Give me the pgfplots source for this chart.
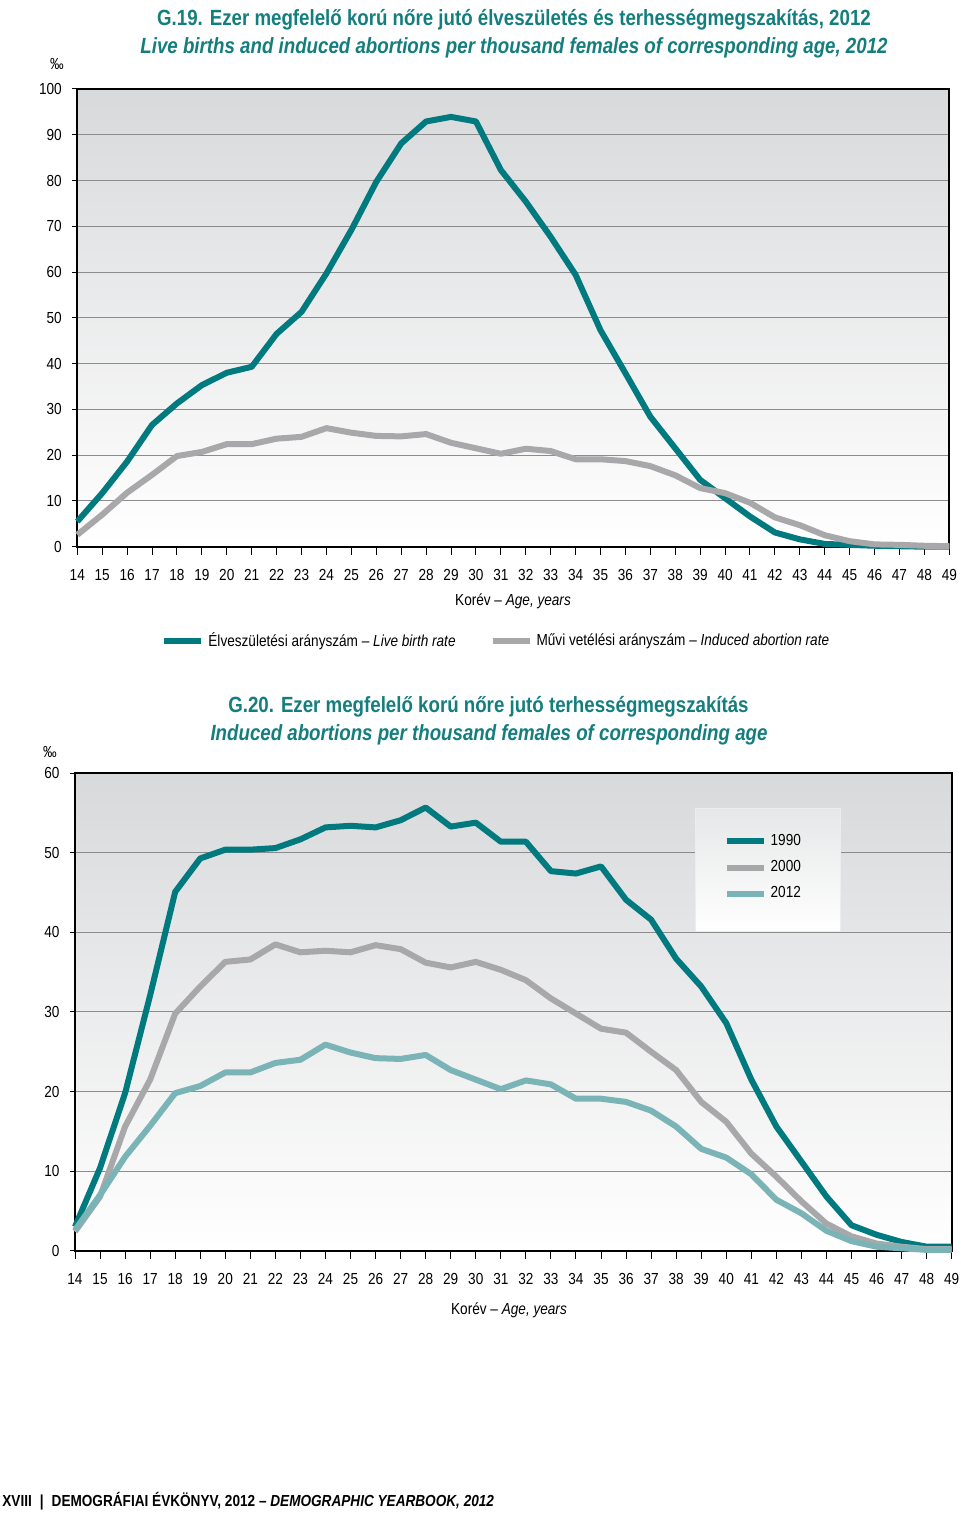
\documentclass[border=0pt]{standalone}
\usepackage{fontspec}
\setmainfont{Liberation Sans}[FakeStretch=0.85]
\usepackage{pgfplots}
\pgfplotsset{compat=1.18}
\usepackage{pgfplotstable}
\definecolor{tealdark}{RGB}{0,122,126}
\definecolor{grayline}{RGB}{168,168,171}
\definecolor{tealight}{RGB}{122,180,182}
\definecolor{titleteal}{RGB}{20,125,125}
\definecolor{bgtop}{RGB}{216,217,219}
\definecolor{gridc}{RGB}{140,140,140}
\definecolor{legtop}{RGB}{230,231,232}

\pgfplotstableread{
age birth abort
14 5.5 2.6
15 11.7 7.0
16 18.6 11.8
17 26.6 15.7
18 31.3 19.8
19 35.3 20.7
20 38.0 22.4
21 39.3 22.4
22 46.5 23.6
23 51.3 24.0
24 59.7 25.9
25 69.2 24.9
26 79.7 24.2
27 88.1 24.1
28 92.9 24.6
29 93.9 22.7
30 92.9 21.5
31 82.3 20.3
32 75.4 21.4
33 67.7 20.9
34 59.4 19.1
35 47.3 19.1
36 37.9 18.7
37 28.4 17.6
38 21.5 15.6
39 14.6 12.8
40 10.6 11.7
41 6.6 9.6
42 3.1 6.4
43 1.6 4.7
44 0.6 2.5
45 0.4 1.2
46 0.2 0.5
47 0.1 0.4
48 0.0 0.2
49 0.0 0.1
}\topdata

\pgfplotstableread{
age y1990 y2000 y2012
14 3.0 2.4 2.6
15 10.4 6.8 7.0
16 19.8 15.6 11.8
17 32.1 21.5 15.7
18 45.1 29.8 19.8
19 49.3 33.2 20.7
20 50.4 36.3 22.4
21 50.4 36.6 22.4
22 50.6 38.5 23.6
23 51.7 37.5 24.0
24 53.2 37.7 25.9
25 53.4 37.5 24.9
26 53.2 38.4 24.2
27 54.1 37.9 24.1
28 55.7 36.2 24.6
29 53.3 35.6 22.7
30 53.8 36.3 21.5
31 51.4 35.3 20.3
32 51.4 34.0 21.4
33 47.7 31.7 20.9
34 47.4 29.8 19.1
35 48.3 27.9 19.1
36 44.1 27.4 18.7
37 41.6 25.0 17.6
38 36.7 22.7 15.6
39 33.2 18.7 12.8
40 28.6 16.2 11.7
41 21.5 12.2 9.6
42 15.6 9.3 6.4
43 11.2 6.2 4.7
44 6.8 3.4 2.5
45 3.2 1.8 1.2
46 2.0 0.9 0.5
47 1.1 0.5 0.3
48 0.5 0.2 0.1
49 0.5 0.2 0.1
}\botdata

\pgfplotsset{
  mystyle/.style={
    scale only axis,
    xmin=14, xmax=49, ymin=0,
    xtick={14,...,49},
    axis background/.style={top color=bgtop, bottom color=white},
    ymajorgrids,
    grid style={gridc, line width=0.5pt},
    axis line style={black, line width=1.1pt},
    tick align=outside,
    xtick pos=lower, ytick pos=left,
    tick style={black, line width=0.5pt},
    xtick style={/pgfplots/major tick length=4pt},
    ytick style={/pgfplots/major tick length=2.5pt},
    tick label style={font=\fontsize{8}{9}\selectfont},
    xticklabel style={yshift=-3.7pt},
    /pgf/number format/assume math mode=true,
    clip=false,
    legend image code/.code={\draw[#1, line width=3pt] (0pt,0pt) -- (18.5pt,0pt);},
  },
  myline/.style={line width=3pt, line join=round},
}

\begin{document}
\begin{tikzpicture}
\useasboundingbox (0,0) rectangle (480pt,756.5pt);

% titles top
\node[font=\bfseries\fontsize{11}{13}\selectfont, text=titleteal] at (257pt,746.5pt) {G.19. Ezer megfelelő korú nőre jutó élveszületés és terhességmegszakítás, 2012};
\node[font=\bfseries\itshape\fontsize{11}{13}\selectfont, text=titleteal] at (257pt,732.5pt) {Live births and induced abortions per thousand females of corresponding age, 2012};
\node[font=\fontsize{8}{9}\selectfont] at (28.5pt,724.5pt) {‰};

\begin{axis}[mystyle,
  at={(38.65pt,483.15pt)}, anchor=south west,
  width=436pt, height=228.85pt,
  ymax=100, ytick={0,10,...,100},
  legend style={at={(0.1006,-0.206)}, anchor=west, xshift=-5pt, draw=none, fill=none,
    legend columns=2, font=\fontsize{8}{9}\selectfont,
    /tikz/every even column/.append style={column sep=15pt}},
]
\addplot[myline, tealdark] table[x=age, y=birth] {\topdata};
\addlegendentry{Élveszületési arányszám – \textit{Live birth rate}}
\addplot[myline, grayline] table[x=age, y=abort] {\topdata};
\addlegendentry{Művi vetélési arányszám – \textit{Induced abortion rate}}
\end{axis}
\node[font=\fontsize{8}{9}\selectfont] at (256.5pt,456pt) {Korév – \textit{Age, years}};

% titles bottom
\node[font=\bfseries\fontsize{11}{13}\selectfont, text=titleteal] at (244.25pt,403pt) {G.20. Ezer megfelelő korú nőre jutó terhességmegszakítás};
\node[font=\bfseries\itshape\fontsize{11}{13}\selectfont, text=titleteal] at (244.5pt,389pt) {Induced abortions per thousand females of corresponding age};
\node[font=\fontsize{8}{9}\selectfont] at (25pt,380.5pt) {‰};

\begin{axis}[mystyle,
  at={(37.5pt,131.15pt)}, anchor=south west,
  width=438.35pt, height=238.7pt,
  ymax=60, ytick={0,10,...,60},
  legend style={at={(0.744,0.875)}, anchor=north west, xshift=-5pt, yshift=3.5pt, draw=none, fill=none,
    font=\fontsize{8}{9}\selectfont, legend cell align=left, row sep=2pt},
]
\fill[top color=legtop, bottom color=white, draw=white!93!black, line width=0.4pt]
  (rel axis cs:0.708,0.669) rectangle (rel axis cs:0.873,0.927);
\addplot[myline, tealdark] table[x=age, y=y1990] {\botdata};
\addlegendentry{1990}
\addplot[myline, grayline] table[x=age, y=y2000] {\botdata};
\addlegendentry{2000}
\addplot[myline, tealight] table[x=age, y=y2012] {\botdata};
\addlegendentry{2012}
\end{axis}
\node[font=\fontsize{8}{9}\selectfont] at (254.5pt,101.5pt) {Korév – \textit{Age, years}};

% footer
\node[anchor=west, font=\bfseries\fontsize{8}{10}\selectfont, inner sep=0pt] at (1pt,6pt) {XVIII\hspace{4pt}|\hspace{4pt}DEMOGRÁFIAI ÉVKÖNYV, 2012 – \textit{DEMOGRAPHIC YEARBOOK, 2012}};
\end{tikzpicture}
\end{document}
